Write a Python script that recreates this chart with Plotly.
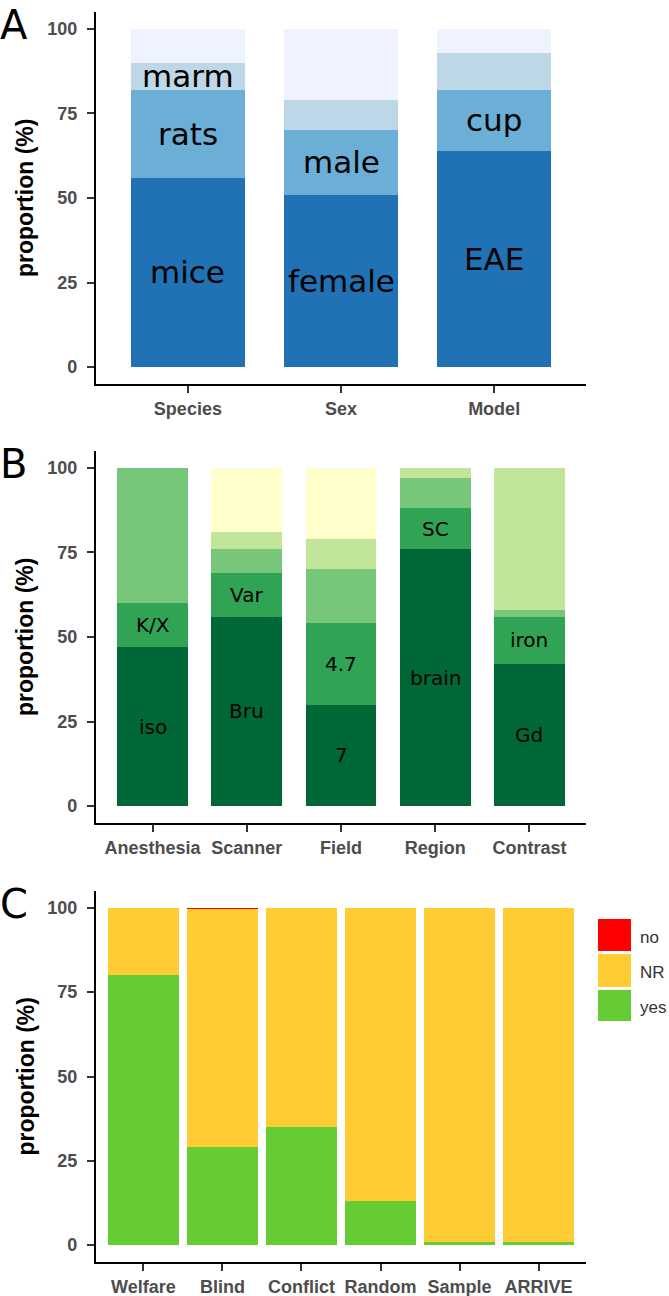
import plotly.graph_objects as go

W, H = 669, 1296

# ---------------- Panel A data ----------------
a_cats = ["Species", "Sex", "Model"]
a_lvl1 = [56, 51, 64]
a_lvl2 = [26, 19, 18]
a_lvl3 = [8, 9, 11]
a_lvl4 = [10, 21, 7]
a_lab1 = ["mice", "female", "EAE"]
a_lab2 = ["rats", "male", "cup"]
a_lab3 = ["marm", "", ""]
a_colors = ["#2171b5", "#6baed6", "#bdd7e7", "#eff3ff"]

# ---------------- Panel B data ----------------
b_cats = ["Anesthesia", "Scanner", "Field", "Region", "Contrast"]
b_lvl1 = [47, 56, 30, 76, 42]
b_lvl2 = [13, 13, 24, 12, 14]
b_lvl3 = [40, 7, 16, 9, 2]
b_lvl4 = [0, 5, 9, 3, 42]
b_lvl5 = [0, 19, 21, 0, 0]
b_lab1 = ["iso", "Bru", "7", "brain", "Gd"]
b_lab2 = ["K/X", "Var", "4.7", "SC", "iron"]
b_colors = ["#006837", "#31a354", "#78c679", "#c2e699", "#ffffcc"]

# ---------------- Panel C data ----------------
c_cats = ["Welfare", "Blind", "Conflict", "Random", "Sample", "ARRIVE"]
c_yes = [80, 29, 35, 13, 1, 1]
c_nr = [20, 70.7, 65, 87, 99, 99]
c_no = [0, 0.3, 0, 0, 0, 0]
c_levels = ["no", "NR", "yes"]
c_colors = ["#ff0000", "#ffcc33", "#66cc33"]

y_ticks = [0, 25, 50, 75, 100]


def px_x(p):
    return p / W


def px_y(p):
    return 1 - p / H


TICK_FONT = dict(family="Liberation Sans", size=18, color="#4d4d4d", weight="bold")
LABEL_FONT_A = dict(family="DejaVu Sans", size=31, color="black")
LABEL_FONT_B = dict(family="DejaVu Sans", size=20, color="black")

fig = go.Figure()


def add_stack(xaxis, yaxis, cats, levels, colors, width):
    idx = list(range(len(cats)))
    for vals, col in zip(levels, colors):
        fig.add_trace(go.Bar(
            x=idx, y=vals, width=width, xaxis=xaxis, yaxis=yaxis,
            marker=dict(color=col, line=dict(width=0)),
            showlegend=False, hoverinfo="skip"))


add_stack("x", "y", a_cats, [a_lvl1, a_lvl2, a_lvl3, a_lvl4], a_colors, 0.74)
add_stack("x2", "y2", b_cats, [b_lvl1, b_lvl2, b_lvl3, b_lvl4, b_lvl5], b_colors, 0.75)
add_stack("x3", "y3", c_cats, [c_yes, c_nr, c_no], [c_colors[2], c_colors[1], c_colors[0]], 0.9)

annotations = []


def add_labels(xref, yref, levels, labels_per_level, font):
    base = [0] * len(levels[0])
    for vals, labs in zip(levels, labels_per_level):
        for i, (v, lab) in enumerate(zip(vals, labs)):
            if lab:
                annotations.append(dict(
                    x=i, y=base[i] + v / 2, xref=xref, yref=yref, text=lab,
                    showarrow=False, font=font, xanchor="center", yanchor="middle"))
        base = [b + v for b, v in zip(base, vals)]


add_labels("x", "y", [a_lvl1, a_lvl2, a_lvl3], [a_lab1, a_lab2, a_lab3], LABEL_FONT_A)
add_labels("x2", "y2", [b_lvl1, b_lvl2], [b_lab1, b_lab2], LABEL_FONT_B)

# panel geometry (screen pixels)
x_left, x_right = 96, 586
panels = [
    ("A", 12, 384, a_cats),
    ("B", 451, 823, b_cats),
    ("C", 891, 1262, c_cats),
]

axis_common = dict(
    showline=True, linecolor="black", linewidth=2.2, mirror=False,
    ticks="outside", ticklen=7, tickwidth=2, tickcolor="#333333",
    tickfont=TICK_FONT, showgrid=False, zeroline=False, fixedrange=True,
)

layout_axes = {}
for k, (letter, top, bot, cats) in enumerate(panels):
    sfx = "" if k == 0 else str(k + 1)
    layout_axes["xaxis" + sfx] = dict(
        axis_common, domain=[px_x(x_left), px_x(x_right)],
        anchor="y" + sfx, range=[-0.6, len(cats) - 0.4],
        tickmode="array", tickvals=list(range(len(cats))), ticktext=cats,
        ticklabelstandoff=0)
    layout_axes["yaxis" + sfx] = dict(
        axis_common, domain=[px_y(bot), px_y(top)],
        anchor="x" + sfx, range=[-5, 105],
        tickmode="array", tickvals=y_ticks, ticktext=[str(t) for t in y_ticks],
        ticklabelstandoff=6)
    # panel letter
    annotations.append(dict(
        x=px_x(-2), y=px_y(top + 13), xref="paper", yref="paper", text=letter,
        showarrow=False, xanchor="left", yanchor="middle",
        font=dict(family="DejaVu Sans", size=40, color="black")))
    # y-axis title
    annotations.append(dict(
        x=px_x(25), y=px_y((top + bot) / 2), xref="paper", yref="paper",
        text="<b>proportion (%)</b>", textangle=-90, showarrow=False,
        xanchor="center", yanchor="middle",
        font=dict(family="Liberation Sans", size=23, color="black")))

# legend for panel C (drawn manually)
shapes = []
key_x0, key_x1 = 598, 631
key_rows = [(919, 951), (954, 987), (990, 1021)]
for lev, col, (r0, r1) in zip(c_levels, c_colors, key_rows):
    shapes.append(dict(type="rect", xref="paper", yref="paper",
                       x0=px_x(key_x0), x1=px_x(key_x1), y0=px_y(r1), y1=px_y(r0),
                       fillcolor=col, line=dict(width=0)))
    annotations.append(dict(
        x=px_x(638), y=px_y((r0 + r1) / 2 + 2), xref="paper", yref="paper",
        text=lev, showarrow=False, xanchor="left", yanchor="middle",
        font=dict(family="Liberation Sans", size=17, color="#333333")))

fig.update_layout(
    width=W, height=H, autosize=False,
    margin=dict(l=0, r=0, t=0, b=0),
    barmode="stack", bargap=0,
    template="none",
    paper_bgcolor="white", plot_bgcolor="white",
    showlegend=False,
    annotations=annotations, shapes=shapes,
    **layout_axes,
)

fig.write_html(
    "out.html",
    config={"displayModeBar": False, "staticPlot": True},
    post_script="document.body.style.margin='0';document.body.style.overflow='hidden';",
)
